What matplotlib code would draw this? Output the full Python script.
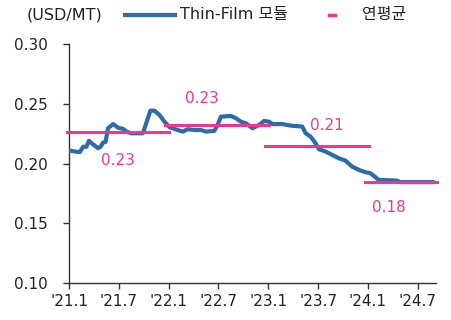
import matplotlib.pyplot as plt
from matplotlib.lines import Line2D

plt.rcParams['font.family'] = ['DejaVu Sans', 'Noto Sans CJK KR']

# months since Jan 2021, Thin-Film module price (USD/MT)
months = [0.0, 0.7, 1.3, 1.7, 2.1, 2.4, 2.9, 3.5, 3.8, 4.1, 4.4, 4.7, 5.3, 5.9,
          6.5, 6.9, 7.5, 8.9, 9.1, 9.5, 9.8, 10.3, 10.9, 11.5, 12.1, 13.1, 13.7,
          14.3, 15.1, 15.9, 16.5, 17.5, 17.9, 18.3, 19.5, 20.1, 20.7, 21.3, 22.1,
          22.5, 22.9, 23.5, 24.1, 24.5, 25.7, 26.7, 28.1, 28.5, 29.1, 29.7, 30.1,
          30.9, 31.7, 32.5, 33.3, 34.1, 34.9, 35.7, 36.3, 36.9, 37.3, 39.5, 39.9,
          43.9]
price = [0.211, 0.210, 0.2095, 0.214, 0.214, 0.219, 0.216, 0.2128, 0.214, 0.2175,
         0.218, 0.2295, 0.233, 0.230, 0.229, 0.2267, 0.2253, 0.2253, 0.2295, 0.2379,
         0.2442, 0.2442, 0.2406, 0.235, 0.2304, 0.228, 0.2267, 0.2287, 0.228, 0.228,
         0.2267, 0.2273, 0.2323, 0.2392, 0.2398, 0.2379, 0.235, 0.2337, 0.2295,
         0.2309, 0.2323, 0.2356, 0.235, 0.233, 0.233, 0.2317, 0.2309, 0.2253, 0.2225,
         0.217, 0.212, 0.210, 0.2072, 0.2044, 0.2024, 0.1974, 0.1947, 0.1927, 0.1919,
         0.1886, 0.1863, 0.1857, 0.1844, 0.1844]

# yearly averages: segment start/end (months) and value
avg_start = [-0.2, 11.6, 23.6, 35.6]
avg_end = [12.1, 24.1, 36.1, 44.3]
avg_value = [0.226, 0.232, 0.2145, 0.1848]
avg_label_x = [5.9, 16.0, 31.0, 38.5]
avg_label_y = [0.2022, 0.254, 0.2317, 0.163]

xtick_pos = [0, 6, 12, 18, 24, 30, 36, 42]
xtick_labels = ["'21.1", "'21.7", "'22.1", "'22.7", "'23.1", "'23.7", "'24.1", "'24.7"]
ytick_pos = [0.10, 0.15, 0.20, 0.25, 0.30]

blue = '#2d6ca6'
pink = '#f0368e'
txt = '#222222'

fig = plt.figure(figsize=(4.51, 3.2), dpi=100)
ax = fig.add_axes([0.153, 0.1156, 0.8137, 0.7469])

ax.plot(months, price, color=blue, lw=3, solid_capstyle='round', zorder=3)
for s, e, v, lx, ly in zip(avg_start, avg_end, avg_value, avg_label_x, avg_label_y):
    ax.plot([s, e], [v, v], color=pink, lw=2.2, zorder=4, clip_on=False)
    ax.text(lx, ly, f'{v:.2f}', color=pink, fontsize=11, ha='center', va='center')

ax.set_xlim(0, 44.2)
ax.set_ylim(0.10, 0.30)
ax.set_xticks(xtick_pos)
ax.set_xticklabels(xtick_labels)
ax.set_yticks(ytick_pos)
ax.set_yticklabels([f'{v:.2f}' for v in ytick_pos])
for side in ['top', 'right']:
    ax.spines[side].set_visible(False)
for side in ['left', 'bottom']:
    ax.spines[side].set_color('#333333')
    ax.spines[side].set_linewidth(1.0)
ax.tick_params(axis='y', length=4.5, width=1, color='#333333', pad=11,
               labelsize=11, labelcolor=txt)
ax.tick_params(axis='x', length=4, width=1, color='#333333', pad=4,
               labelsize=11, labelcolor=txt)

# legend row above the axes
ly = 1 - 15 / 320
fig.text(27 / 451, ly, '(USD/MT)', fontsize=11.5, color=txt, va='center')
fig.add_artist(Line2D([125 / 451, 175 / 451], [ly, ly], color=blue, lw=3))
fig.text(180 / 451, ly, 'Thin-Film 모듈', fontsize=11.5, color=txt, va='center')
fig.add_artist(Line2D([329 / 451, 335 / 451], [ly, ly], color=pink, lw=2.5))
fig.text(362 / 451, ly, '연평균', fontsize=11.5, color=txt, va='center')

fig.savefig('out.png', dpi=100)
